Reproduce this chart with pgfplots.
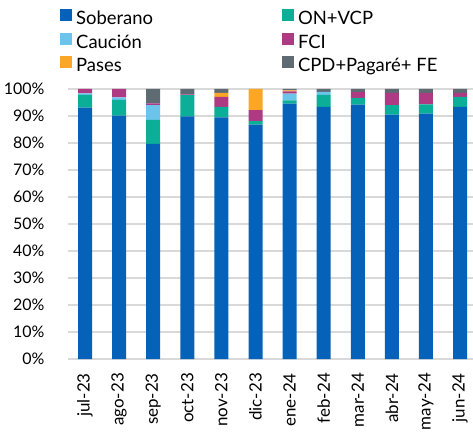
\documentclass[border=0pt]{standalone}
\usepackage{pgfplots}
\pgfplotsset{compat=1.18}
\usepackage{fontspec}
\setmainfont{Lato}
\definecolor{csob}{HTML}{0562B8}
\definecolor{con}{HTML}{0BAE96}
\definecolor{ccau}{HTML}{6DC4EA}
\definecolor{cfci}{HTML}{AD3A82}
\definecolor{cpas}{HTML}{FBA626}
\definecolor{ccpd}{HTML}{5F6B73}
\begin{document}
\begin{tikzpicture}[x=1bp,y=1bp]
\begin{axis}[
  name=ax,
  scale only axis,
  width=405bp, height=270bp,
  ybar stacked, bar width=14bp,
  ymin=0, ymax=100,
  xmin=-0.5, xmax=11.38,
  xtick=data,
  xticklabels={jul-23,ago-23,sep-23,oct-23,nov-23,dic-23,ene-24,feb-24,mar-24,abr-24,may-24,jun-24},
  x tick label style={rotate=90, anchor=east, font=\fontsize{17}{19}\selectfont, inner sep=0pt, xshift=-14bp},
  ytick={0,10,...,100},
  yticklabel={\pgfmathprintnumber{\tick}\%},
  y tick label style={font=\fontsize{16}{19}\selectfont, xshift=-20bp},
  /pgf/number format/assume math mode=true,
  ymajorgrids, grid style={draw=black!15, line width=1.5bp},
  axis line style={draw=none},
  axis x line*=bottom,
  x axis line style={draw=black!15, line width=1.5bp},
  axis y line*=left,
  y axis line style={draw=none},
  major tick length=0pt,
  tick style={draw=none},
  clip=false,
  legend columns=2,
  legend cell align=left,
  legend style={draw=none, fill=none, at={(0,1)}, anchor=north west,
    xshift=-8bp, yshift=80bp, inner sep=0pt,
    font=\fontsize{18.5}{20}\selectfont, row sep=3bp,
    nodes={text height=12bp, text depth=4bp, inner sep=1bp},
    /tikz/every even column/.append style={column sep=128bp}},
  legend image code/.code={\fill[#1] (0bp,-0.5bp) rectangle (12bp,11.5bp); \path (15bp,0bp);},
]
\addplot[fill=csob, draw=none] coordinates {(0,93.1) (1,90.1) (2,79.7) (3,89.9) (4,89.5) (5,86.8) (6,94.6) (7,93.4) (8,94.2) (9,90.5) (10,90.9) (11,93.4)};
\addplot[fill=con, draw=none] coordinates {(0,4.7) (1,5.9) (2,8.9) (3,7.8) (4,3.9) (5,1.3) (6,1.2) (7,4.4) (8,2.5) (9,3.5) (10,3.4) (11,3.7)};
\addplot[fill=ccau, draw=none] coordinates {(0,0.6) (1,0.9) (2,5.4) (3,0) (4,0) (5,0) (6,2.5) (7,1.1) (8,0) (9,0) (10,0) (11,0)};
\addplot[fill=cfci, draw=none] coordinates {(0,1.6) (1,3.1) (2,0.7) (3,0.3) (4,3.7) (5,4.1) (6,0.8) (7,0) (8,2.1) (9,4.6) (10,4.3) (11,1.5)};
\addplot[fill=cpas, draw=none] coordinates {(0,0) (1,0) (2,0) (3,0) (4,1.5) (5,7.8) (6,0.4) (7,0) (8,0) (9,0) (10,0) (11,0)};
\addplot[fill=ccpd, draw=none] coordinates {(0,0) (1,0) (2,5.3) (3,2.0) (4,1.4) (5,0) (6,0.5) (7,1.1) (8,1.2) (9,1.4) (10,1.4) (11,1.4)};
\legend{Soberano,ON+VCP,Caución,FCI,Pases,CPD+Pagaré+ FE}
\end{axis}
\pgfresetboundingbox
\path ([shift={(-68bp,-76bp)}]ax.south west) rectangle ([shift={(405bp,359bp)}]ax.south west);
\end{tikzpicture}
\end{document}
